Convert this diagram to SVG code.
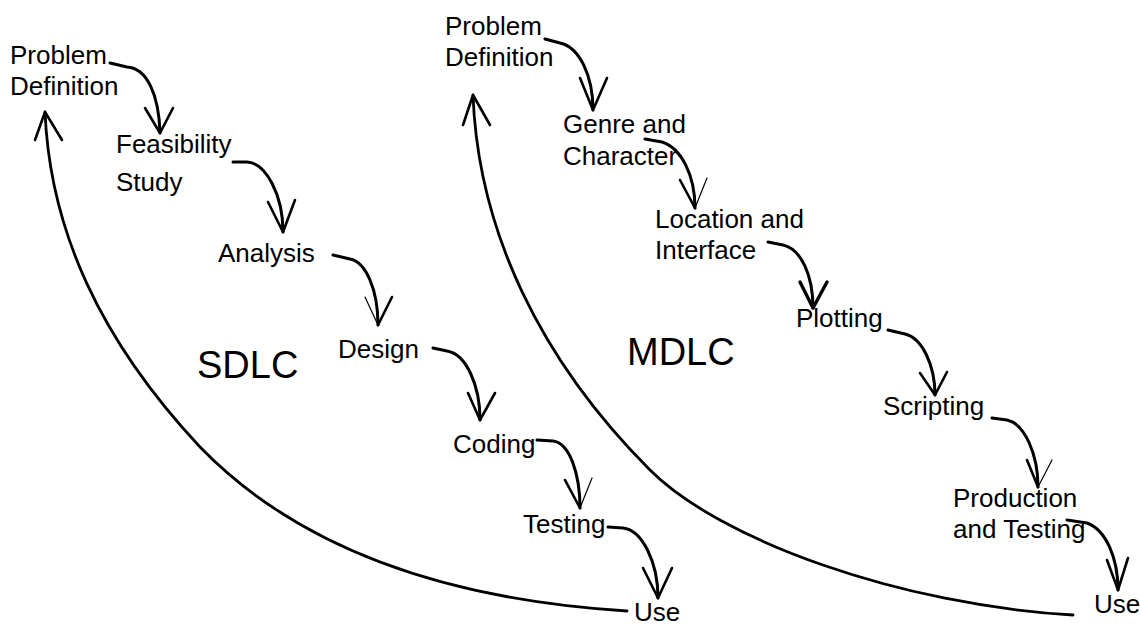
<svg xmlns="http://www.w3.org/2000/svg" width="1140" height="626" viewBox="0 0 1140 626">
  <style>
    .lbl { font-family: "Liberation Sans", Arial, sans-serif; font-size: 26px; fill: #000; }
    .title { font-family: "Liberation Sans", Arial, sans-serif; font-size: 38px; fill: #000; }
    .loop { fill: none; stroke: #000; stroke-width: 2.8; stroke-linecap: round; stroke-linejoin: round; }
    .step { fill: none; stroke: #000; stroke-width: 3; stroke-linecap: round; stroke-linejoin: round; }
    .head { fill: none; stroke: #000; stroke-width: 2.6; stroke-linecap: round; stroke-linejoin: round; }
    .thin { fill: none; stroke: #000; stroke-width: 1.2; stroke-linecap: round; }
  </style>
  <rect width="1140" height="626" fill="#fff"/>

  <!-- SDLC life-cycle -->
  <g id="sdlc-title"><text class="title" x="197" y="378">SDLC</text></g>
  <g id="sdlc-problem"><text class="lbl" x="10" y="64">Problem</text><text class="lbl" x="10" y="95">Definition</text></g>
  <g id="sdlc-feasibility"><text class="lbl" x="116" y="153">Feasibility</text><text class="lbl" x="116" y="191">Study</text></g>
  <g id="sdlc-analysis"><text class="lbl" x="218" y="262">Analysis</text></g>
  <g id="sdlc-design"><text class="lbl" x="338" y="358">Design</text></g>
  <g id="sdlc-coding"><text class="lbl" x="453" y="453">Coding</text></g>
  <g id="sdlc-testing"><text class="lbl" x="523" y="533">Testing</text></g>
  <g id="sdlc-use"><text class="lbl" x="634" y="621">Use</text></g>

  <!-- MDLC life-cycle -->
  <g id="mdlc-title"><text class="title" x="627" y="365">MDLC</text></g>
  <g id="mdlc-problem"><text class="lbl" x="445" y="35">Problem</text><text class="lbl" x="445" y="66">Definition</text></g>
  <g id="mdlc-genre"><text class="lbl" x="563" y="133">Genre and</text><text class="lbl" x="563" y="165">Character</text></g>
  <g id="mdlc-location"><text class="lbl" x="655" y="228">Location and</text><text class="lbl" x="655" y="259">Interface</text></g>
  <g id="mdlc-plotting"><text class="lbl" x="796" y="327">Plotting</text></g>
  <g id="mdlc-scripting"><text class="lbl" x="883" y="415">Scripting</text></g>
  <g id="mdlc-production"><text class="lbl" x="953" y="507">Production</text><text class="lbl" x="953" y="538">and Testing</text></g>
  <g id="mdlc-use"><text class="lbl" x="1094" y="613">Use</text></g>

  <g id="connectors">
    <!-- feedback loops back to problem definition -->
    <path class="loop" d="M45,112 C50,230 100,340 200,447 C300,550 450,600 627,611"/>
    <polyline class="head" points="35,140 45,112 62,140"/>
    <path class="loop" d="M473,95 C478,230 540,360 650,470 C720,540 900,605 1073,615"/>
    <polyline class="head" points="463,125 473,95 490,125"/>

    <!-- SDLC steps -->
    <path class="step" d="M110,63 L127,67 C147,68 159,95 160,133"/>
    <polyline class="head" points="145,108 160,133 173,108"/>
    <path class="step" d="M233,162 L247,162 C266,163 283,195 283,232"/>
    <polyline class="head" points="268,202 283,232 295,200"/>
    <path class="step" d="M333,255 L350,259 C366,262 378,290 378,325"/>
    <polyline class="thin" points="365,297 378,325"/>
    <polyline class="head" points="378,325 392,297"/>
    <path class="step" d="M433,348 L447,351 C466,354 480,385 480,420"/>
    <polyline class="head" points="468,393 480,420 495,393"/>
    <path class="step" d="M537,440 L553,441 C570,443 580,475 580,508"/>
    <polyline class="head" points="565,480 580,508"/>
    <polyline class="thin" points="580,508 592,478"/>
    <path class="step" d="M608,527 L623,528 C642,530 658,562 658,598"/>
    <polyline class="head" points="643,568 658,598 672,568"/>

    <!-- MDLC steps -->
    <path class="step" d="M545,39 L560,43 C579,47 593,75 593,110"/>
    <polyline class="head" points="580,78 593,110 607,78"/>
    <path class="step" d="M645,139 L662,142 C681,148 695,175 695,208"/>
    <polyline class="head" points="680,180 695,208"/>
    <polyline class="thin" points="695,208 707,178"/>
    <path class="step" d="M768,242 L783,245 C801,249 813,275 813,308"/>
    <polyline class="head" style="stroke-width:3.4" points="800,282 813,308 827,282"/>
    <path class="step" d="M888,330 L905,334 C922,338 935,365 935,395"/>
    <polyline class="head" points="920,373 935,395 947,372"/>
    <path class="step" d="M992,418 L1007,420 C1025,424 1038,455 1038,487"/>
    <polyline class="head" points="1027,460 1038,487"/>
    <polyline class="thin" points="1038,487 1052,460"/>
    <path class="step" d="M1067,520 L1087,523 C1106,530 1118,558 1118,590"/>
    <polyline class="head" points="1107,560 1118,590 1128,558"/>
  </g>
</svg>
